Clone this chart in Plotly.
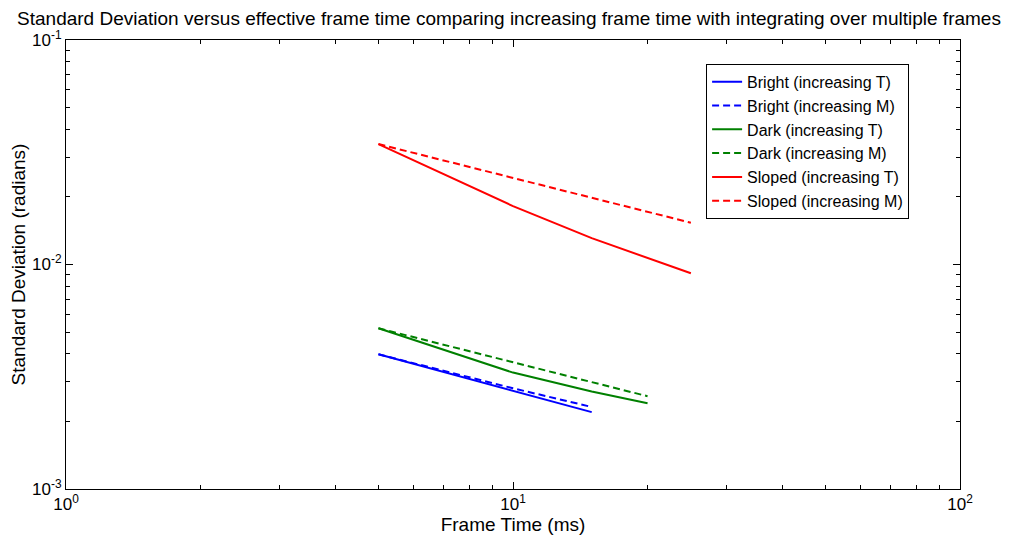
import plotly.graph_objects as go

frame_time_T = [5, 10, 15, 20, 25]
bright_T = [0.00398, 0.00274, 0.0022]
bright_M = [0.00398, 0.00281, 0.00232]
dark_T = [0.0052, 0.0033, 0.00272, 0.00241]
dark_M = [0.0052, 0.00368, 0.0030, 0.00259]
sloped_T = [0.0344, 0.0182, 0.0131, 0.01066, 0.00914]
sloped_M = [0.0344, 0.0243, 0.0199, 0.0172, 0.01535]

x_tick_vals = [1, 10, 100]
x_tick_text = ["10<sup>0</sup>", "10<sup>1</sup>", "10<sup>2</sup>"]
y_tick_vals = [0.001, 0.01, 0.1]
y_tick_text = ["10<sup>-3</sup>", "10<sup>-2</sup>", "10<sup>-1</sup>"]
x_minor_vals = [2, 3, 4, 5, 6, 7, 8, 9, 20, 30, 40, 50, 60, 70, 80, 90]
y_minor_vals = [0.002, 0.003, 0.004, 0.005, 0.006, 0.007, 0.008, 0.009,
                0.02, 0.03, 0.04, 0.05, 0.06, 0.07, 0.08, 0.09]

series = [
    ("Bright (increasing T)", bright_T, "#0000ff", "solid"),
    ("Bright (increasing M)", bright_M, "#0000ff", "7px,4px"),
    ("Dark (increasing T)", dark_T, "#008000", "solid"),
    ("Dark (increasing M)", dark_M, "#008000", "7px,4px"),
    ("Sloped (increasing T)", sloped_T, "#ff0000", "solid"),
    ("Sloped (increasing M)", sloped_M, "#ff0000", "7px,4px"),
]

fig = go.Figure()
for name, vals, color, dash in series:
    fig.add_trace(go.Scatter(
        x=frame_time_T[:len(vals)], y=vals, mode="lines", name=name,
        line=dict(color=color, dash=dash, width=2),
    ))

font = "Liberation Sans, Arial, sans-serif"
axis_common = dict(
    type="log", showgrid=False, zeroline=False, showline=True, linecolor="black",
    linewidth=1, mirror="ticks", ticks="inside", ticklen=7, tickcolor="black",
    automargin=False,
    tickfont=dict(size=17, color="black", family=font),
)

# page body adds an 8px offset; size figure so plot box lands at 66..960 x 40..489
fig.update_layout(
    width=1002, height=528,
    paper_bgcolor="white", plot_bgcolor="white",
    margin=dict(l=58, r=50, t=32, b=47),
    title=dict(text="Standard Deviation versus effective frame time comparing increasing frame time with integrating over multiple frames",
               x=0.5, xanchor="center", y=0.981, yanchor="middle",
               font=dict(size=19, color="black", family=font)),
    xaxis=dict(axis_common, range=[0, 2], tickvals=x_tick_vals, ticktext=x_tick_text,
               minor=dict(tickvals=x_minor_vals, ticks="inside", ticklen=4, tickcolor="black", showgrid=False),
               title=dict(text="Frame Time (ms)", font=dict(size=19, color="black", family=font), standoff=0)),
    yaxis=dict(axis_common, range=[-3, -1], tickvals=y_tick_vals, ticktext=y_tick_text,
               minor=dict(tickvals=y_minor_vals, ticks="inside", ticklen=4, tickcolor="black", showgrid=False),
               title=dict(text="Standard Deviation (radians)", font=dict(size=19, color="black", family=font), standoff=4)),
    legend=dict(x=0.716, y=0.947, xanchor="left", yanchor="top",
                bgcolor="white", bordercolor="black", borderwidth=1,
                font=dict(size=16, color="black", family=font),
                tracegroupgap=0, itemwidth=30),
    showlegend=True,
)

fig.write_html("out.html")
